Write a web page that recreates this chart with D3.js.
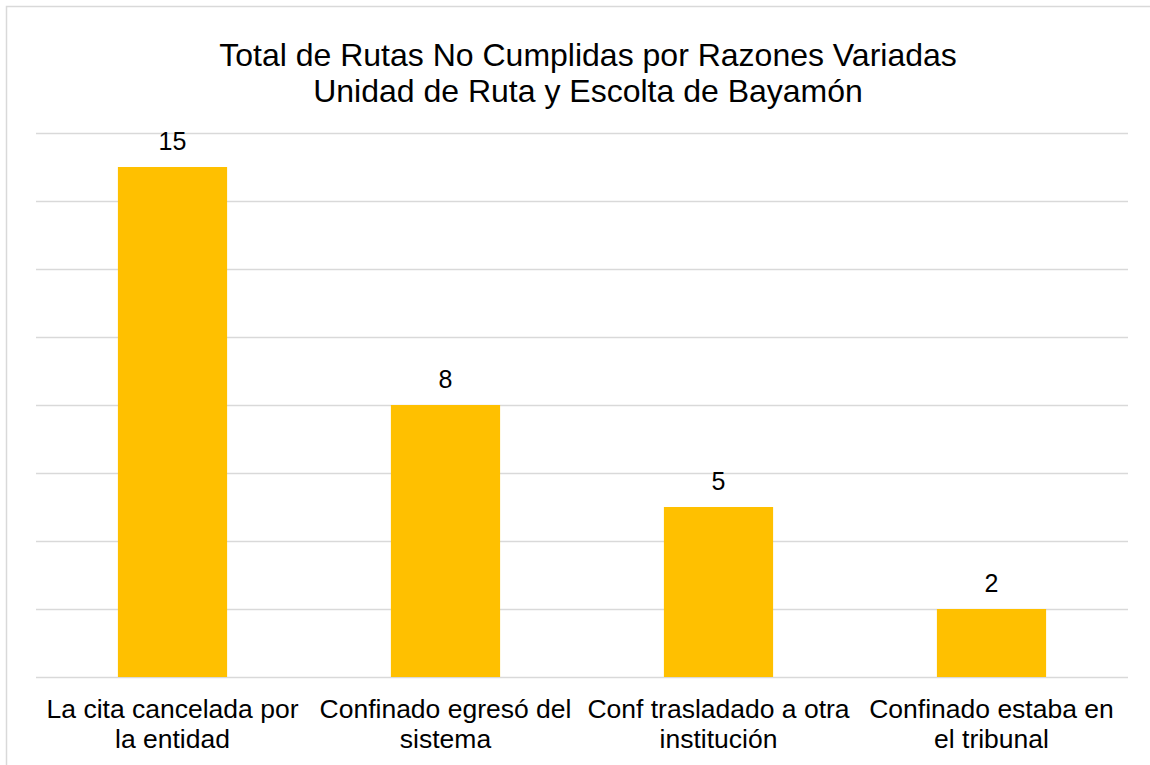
<!DOCTYPE html>
<html>
<head>
<meta charset="utf-8">
<script src="https://cdn.jsdelivr.net/npm/d3@7"></script>
<style>
  html, body { margin: 0; padding: 0; background: #fff; }
  svg { display: block; font-family: "Liberation Sans", Arial, sans-serif; }
</style>
</head>
<body>
<svg id="chart" width="1150" height="765"></svg>
<script>
// Chart data
const titleLines = ["Total de Rutas No Cumplidas por Razones Variadas", "Unidad de Ruta y Escolta de Bayamón"];
const categories = [
  "La cita cancelada por la entidad",
  "Confinado egresó del sistema",
  "Conf trasladado a otra institución",
  "Confinado estaba en el tribunal"
];
const values = [15, 8, 5, 2];
const gridTicks = [0, 2, 4, 6, 8, 10, 12, 14, 16];

const svg = d3.select("#chart");
const W = 1150, H = 765;
const margin = { top: 133, right: 22, bottom: 88, left: 36 };
const plotW = W - margin.left - margin.right;
const plotH = H - margin.top - margin.bottom;

// Outer chart frame (extends past the right and bottom edges)
svg.append("rect")
  .attr("x", 6.5).attr("y", 6.5)
  .attr("width", W + 20).attr("height", H + 20)
  .attr("fill", "#fff")
  .attr("stroke", "#D9D9D9").attr("stroke-width", 1.5);

const g = svg.append("g").attr("transform", `translate(${margin.left},${margin.top})`);

const x = d3.scaleBand().domain(categories).range([0, plotW]).paddingInner(0.6).paddingOuter(0.3);
const y = d3.scaleLinear().domain([0, 16]).range([plotH, 0]);

// Horizontal gridlines
g.append("g")
  .call(d3.axisLeft(y).tickValues(gridTicks).tickSize(-plotW).tickFormat(""))
  .call(a => a.select(".domain").remove())
  .call(a => a.selectAll("line").attr("stroke", "#D9D9D9").attr("stroke-width", 1.3));

// Bars
g.selectAll("rect.bar")
  .data(values)
  .join("rect")
  .attr("class", "bar")
  .attr("x", (d, i) => x(categories[i]))
  .attr("width", x.bandwidth())
  .attr("y", d => y(d))
  .attr("height", d => y(0) - y(d))
  .attr("fill", "#FFC000");

// Value labels
g.selectAll("text.val")
  .data(values)
  .join("text")
  .attr("class", "val")
  .attr("x", (d, i) => x(categories[i]) + x.bandwidth() / 2)
  .attr("y", d => y(d) - 17)
  .attr("text-anchor", "middle")
  .attr("font-size", 25)
  .attr("fill", "#000")
  .text(d => d);

// Category axis with wrapped labels
const xAxis = g.append("g")
  .attr("transform", `translate(0,${plotH})`)
  .call(d3.axisBottom(x).tickSize(0).tickPadding(0));
xAxis.select(".domain").remove();
xAxis.selectAll("text").each(function(d) {
  const t = d3.select(this);
  t.text(null).attr("font-size", 26.5).attr("fill", "#000")
    .attr("font-family", "Liberation Sans, Arial, sans-serif")
    .attr("dy", null).attr("y", 0);
  const words = d.split(" ");
  const maxW = 266;
  let lines = [], line = [];
  const probe = t.append("tspan");
  words.forEach(w => {
    const trial = line.concat(w).join(" ");
    probe.text(trial);
    if (probe.node().getComputedTextLength() > maxW && line.length) {
      lines.push(line.join(" "));
      line = [w];
    } else {
      line.push(w);
    }
  });
  lines.push(line.join(" "));
  probe.remove();
  lines.forEach((ln, i) => {
    t.append("tspan").attr("x", 0).attr("y", 41 + i * 30).text(ln);
  });
});

// Title
const title = svg.append("text")
  .attr("text-anchor", "middle")
  .attr("font-size", 32)
  .attr("fill", "#000");
titleLines.forEach((ln, i) => {
  title.append("tspan").attr("x", 588).attr("y", 66 + i * 36).text(ln);
});
</script>
</body>
</html>
